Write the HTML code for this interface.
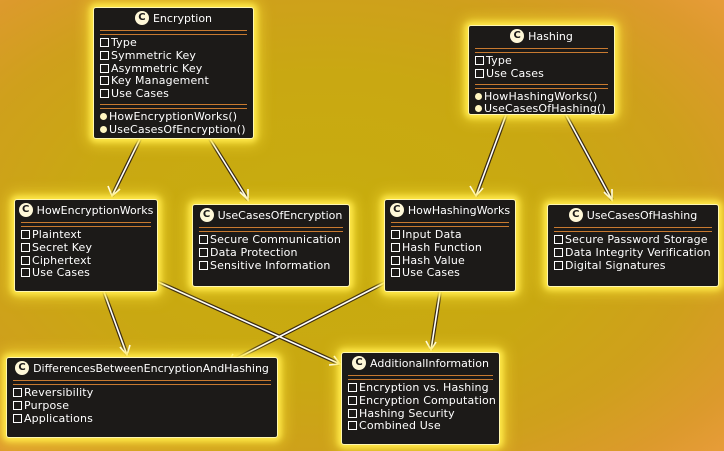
<!DOCTYPE html>
<html><head><meta charset="utf-8"><style>
html,body{margin:0;padding:0}
body{width:724px;height:451px;position:relative;overflow:hidden;font-family:"DejaVu Sans","Liberation Sans",sans-serif;
background:radial-gradient(ellipse 75% 75% at 45% 50%,#c8ad0e 0%,#c9a812 45%,#cfa01c 70%,#dc9a2c 88%,#e89c3a 100%);}
.b{position:absolute;background:#1c1a18;border:1px solid #fff7b0;border-radius:3px;box-shadow:0 0 6px 3px #ffe94a,0 0 14px 6px rgba(255,230,60,.6);color:#fff;font-size:11px;line-height:12.8px;box-sizing:border-box;letter-spacing:0.15px}
.t{text-align:center;height:22px;line-height:22px;white-space:nowrap;font-size:11px;letter-spacing:0}
.c{display:inline-block;width:14px;height:14px;border-radius:50%;background:#fff8d8;color:#1c1a18;font-weight:bold;font-size:10px;line-height:14px;text-align:center;vertical-align:middle;margin-right:4px;margin-top:-2px;letter-spacing:0}
.l{height:3px;border-top:1px solid #c87a30;border-bottom:1px solid #c87a30;margin:0 6px 2px 6px}
.r{padding-left:6px;white-space:nowrap}
.r:before{content:"";display:inline-block;width:7px;height:7px;border:1px solid #fff;margin-right:2px;vertical-align:-1px}
.m{padding-left:6px;white-space:nowrap}
.m:before{content:"";display:inline-block;width:7px;height:7px;border-radius:50%;background:#fff6c0;margin-right:2px;vertical-align:0}
svg{position:absolute;left:0;top:0}
</style></head><body>
<svg width="724" height="451">
<g stroke="#3a2a10" stroke-width="4" fill="none">
<line x1="140" y1="139" x2="112" y2="196"/><line x1="210" y1="139" x2="248" y2="200"/>
<line x1="506" y1="115" x2="476" y2="196"/><line x1="566" y1="115" x2="612" y2="200"/>
<line x1="104" y1="292" x2="127" y2="355"/><line x1="158" y1="282" x2="340" y2="364"/>
<line x1="386" y1="282" x2="228" y2="363"/><line x1="440" y1="292" x2="431" y2="350"/>
</g>
<g stroke="#fff" stroke-width="1.6" fill="none">
<line x1="140" y1="139" x2="112" y2="196"/><line x1="210" y1="139" x2="248" y2="200"/>
<line x1="506" y1="115" x2="476" y2="196"/><line x1="566" y1="115" x2="612" y2="200"/>
<line x1="104" y1="292" x2="127" y2="355"/><line x1="158" y1="282" x2="340" y2="364"/>
<line x1="386" y1="282" x2="228" y2="363"/><line x1="440" y1="292" x2="431" y2="350"/>
<polyline points="108,186 112,196 120,189"/><polyline points="240,192 248,200 248,189"/>
<polyline points="470,186 476,196 483,188"/><polyline points="604,192 612,200 612,189"/>
<polyline points="120,347 127,355 130,345"/><polyline points="329,365 340,364 334,356"/>
<polyline points="238,363 228,363 233,354"/><polyline points="426,341 431,350 436,342"/>
</g>
</svg>
<div class="b" style="left:93px;top:7px;width:161px;height:132px">
<div class="t"><span class="c">C</span>Encryption</div><div class="l"></div>
<div class="r">Type</div><div class="r">Symmetric Key</div><div class="r">Asymmetric Key</div><div class="r">Key Management</div><div class="r">Use Cases</div>
<div class="l" style="margin-top:3px"></div>
<div class="m">HowEncryptionWorks()</div><div class="m">UseCasesOfEncryption()</div></div>
<div class="b" style="left:468px;top:25px;width:147px;height:90px">
<div class="t"><span class="c">C</span>Hashing</div><div class="l"></div>
<div class="r">Type</div><div class="r">Use Cases</div>
<div class="l" style="margin-top:3px"></div>
<div class="m">HowHashingWorks()</div><div class="m">UseCasesOfHashing()</div></div>
<div class="b" style="left:14px;top:199px;width:144px;height:93px">
<div class="t"><span class="c">C</span>HowEncryptionWorks</div><div class="l"></div>
<div class="r">Plaintext</div><div class="r">Secret Key</div><div class="r">Ciphertext</div><div class="r">Use Cases</div></div>
<div class="b" style="left:192px;top:204px;width:158px;height:83px">
<div class="t"><span class="c">C</span>UseCasesOfEncryption</div><div class="l"></div>
<div class="r">Secure Communication</div><div class="r">Data Protection</div><div class="r">Sensitive Information</div></div>
<div class="b" style="left:384px;top:199px;width:132px;height:93px">
<div class="t"><span class="c">C</span>HowHashingWorks</div><div class="l"></div>
<div class="r">Input Data</div><div class="r">Hash Function</div><div class="r">Hash Value</div><div class="r">Use Cases</div></div>
<div class="b" style="left:547px;top:204px;width:172px;height:83px">
<div class="t"><span class="c">C</span>UseCasesOfHashing</div><div class="l"></div>
<div class="r">Secure Password Storage</div><div class="r">Data Integrity Verification</div><div class="r">Digital Signatures</div></div>
<div class="b" style="left:6px;top:357px;width:272px;height:81px">
<div class="t"><span class="c">C</span>DifferencesBetweenEncryptionAndHashing</div><div class="l"></div>
<div class="r">Reversibility</div><div class="r">Purpose</div><div class="r">Applications</div></div>
<div class="b" style="left:341px;top:352px;width:159px;height:93px">
<div class="t"><span class="c">C</span>AdditionalInformation</div><div class="l"></div>
<div class="r">Encryption vs. Hashing</div><div class="r">Encryption Computation</div><div class="r">Hashing Security</div><div class="r">Combined Use</div></div>
</body></html>
